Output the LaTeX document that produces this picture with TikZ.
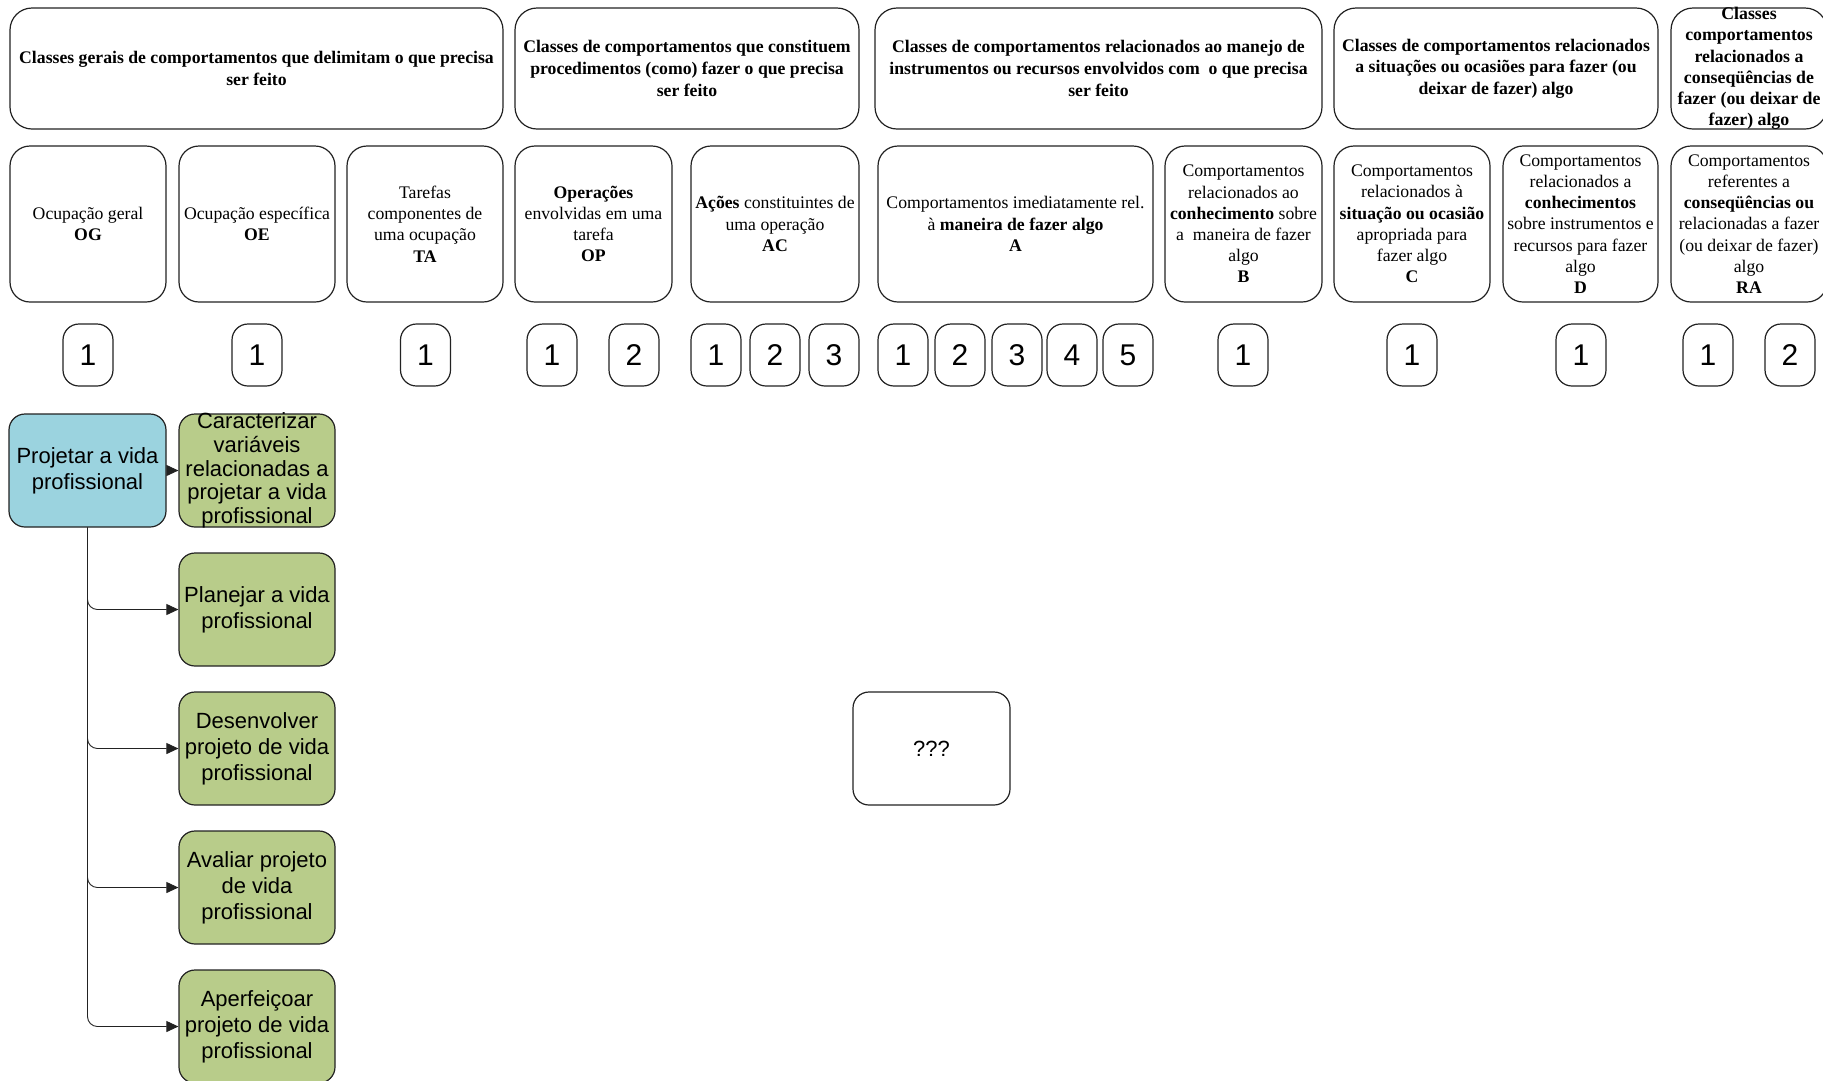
\documentclass[tikz,border=0pt]{standalone}
\usepackage{fontspec}
\setmainfont{Liberation Serif}
\newfontfamily\arialf{Liberation Sans}
\usetikzlibrary{arrows.meta}
\definecolor{blueF}{RGB}{155,211,223}
\definecolor{greenF}{RGB}{184,204,138}
\definecolor{edgec}{RGB}{34,34,34}
\tikzset{
 hbox/.style={draw=edgec, line width=1.2pt, rounded corners=22pt, inner sep=0pt, align=center, font=\fontsize{17.7}{21.6}\selectfont\bfseries, minimum height=121pt},
 htext/.style={inner sep=0pt, align=center, font=\fontsize{17.8}{21.2}\selectfont\bfseries},
 cbox/.style={draw=edgec, line width=1.2pt, rounded corners=20pt, inner sep=0pt, align=center, font=\fontsize{17.7}{21.2}\selectfont, minimum height=156pt},
 pill/.style={draw=edgec, line width=1.2pt, rounded corners=16pt, inner sep=0pt, minimum width=50pt, minimum height=62pt, font=\arialf\fontsize{30}{34}\selectfont},
 gbox/.style={draw=edgec, line width=1.2pt, rounded corners=16pt, inner sep=0pt, align=center, minimum width=156pt, minimum height=113pt, font=\arialf\fontsize{22}{25.8}\selectfont},
 gtext/.style={inner sep=0pt, align=center, font=\arialf\fontsize{22}{23.8}\selectfont},
 conn/.style={draw=edgec, line width=0.9pt, -{Triangle[length=12pt,width=11pt]}, rounded corners=10pt}
}
\begin{document}
\begin{tikzpicture}[x=1pt,y=-1pt]
\useasboundingbox (0,0) rectangle (1823,1080);
\clip (0,0) rectangle (1823,1080);
% headers
\node[hbox, minimum width=493pt] (h1) at (256.5,68.5) {Classes gerais de comportamentos que delimitam o que precisa\\ser feito};
\node[hbox, minimum width=344pt] (h2) at (687,68.5) {Classes de comportamentos que constituem\\procedimentos (como) fazer o que precisa\\ser feito};
\node[hbox, minimum width=447pt] (h3) at (1098.5,68.5) {Classes de comportamentos relacionados ao manejo de\\instrumentos ou recursos envolvidos com \ o que precisa\\ser feito};
\node[hbox, minimum width=324pt] (h4) at (1496,68.5) {Classes de comportamentos relacionados\\a situações ou ocasiões para fazer (ou\\deixar de fazer) algo};
\node[hbox, minimum width=156pt] (h5) at (1749,68.5) {};
\node[htext] (h5t) at (h5.center) {Classes\\comportamentos\\relacionados a\\conseqüências de\\fazer (ou deixar de\\fazer) algo};
% categories
\node[cbox, minimum width=156pt] (og) at (88,224) {Ocupação geral\\\textbf{OG}};
\node[cbox, minimum width=156pt] (oe) at (257,224) {Ocupação específica\\\textbf{OE}};
\node[cbox, minimum width=156pt] (ta) at (425,224) {Tarefas\\componentes de\\uma ocupação\\\textbf{TA}};
\node[cbox, minimum width=157pt] (op) at (593.5,224) {\textbf{Operações}\\envolvidas em uma\\tarefa\\\textbf{OP}};
\node[cbox, minimum width=168pt] (ac) at (775,224) {\textbf{Ações} constituintes de\\uma operação\\\textbf{AC}};
\node[cbox, minimum width=275pt] (ca) at (1015.5,224) {Comportamentos imediatamente rel.\\à \textbf{maneira de fazer algo}\\\textbf{A}};
\node[cbox, minimum width=157pt] (cb) at (1243.5,224) {Comportamentos\\relacionados ao\\\textbf{conhecimento} sobre\\a \ maneira de fazer\\algo\\\textbf{B}};
\node[cbox, minimum width=156pt] (cc) at (1412,224) {Comportamentos\\relacionados à\\\textbf{situação ou ocasião}\\apropriada para\\fazer algo\\\textbf{C}};
\node[cbox, minimum width=155pt] (cd) at (1580.5,224) {Comportamentos\\relacionados a\\\textbf{conhecimentos}\\sobre instrumentos e\\recursos para fazer\\algo\\\textbf{D}};
\node[cbox, minimum width=156pt] (ra) at (1749,224) {Comportamentos\\referentes a\\\textbf{conseqüências ou}\\relacionadas a fazer\\(ou deixar de fazer)\\algo\\\textbf{RA}};
% counters
\node[pill] (p1) at (88,355) {1};
\node[pill] (p2) at (257,355) {1};
\node[pill] (p3) at (425.5,355) {1};
\node[pill] (p4) at (552,355) {1};
\node[pill] (p5) at (634,355) {2};
\node[pill] (p6) at (716,355) {1};
\node[pill] (p7) at (775,355) {2};
\node[pill] (p8) at (834,355) {3};
\node[pill] (p9) at (903,355) {1};
\node[pill] (p10) at (960,355) {2};
\node[pill] (p11) at (1017,355) {3};
\node[pill] (p12) at (1072,355) {4};
\node[pill] (p13) at (1128,355) {5};
\node[pill] (p14) at (1243,355) {1};
\node[pill] (p15) at (1412,355) {1};
\node[pill] (p16) at (1581,355) {1};
\node[pill] (p17) at (1708,355) {1};
\node[pill] (p18) at (1790,355) {2};
% process tree
\node[gbox, fill=blueF, minimum width=157pt] (root) at (87.5,470.5) {Projetar a vida\\profissional};
\node[gbox, fill=greenF] (g1) at (257,470.5) {};
\node[gtext] (g1t) at (g1.center) {Caracterizar\\variáveis\\relacionadas a\\projetar a vida\\profissional};
\node[gbox, fill=greenF] (g2) at (257,609.5) {Planejar a vida\\profissional};
\node[gbox, fill=greenF] (g3) at (257,748.5) {Desenvolver\\projeto de vida\\profissional};
\node[gbox, fill=greenF] (g4) at (257,887.5) {Avaliar projeto\\de vida\\profissional};
\node[gbox, fill=greenF] (g5) at (257,1026.5) {Aperfeiçoar\\projeto de vida\\profissional};
\node[gbox, minimum width=157pt] (q) at (931.5,748.5) {???};
\draw[conn] (root.east) -- (g1.west);
\draw[conn] (root.south) |- (g2.west);
\draw[conn] (root.south) |- (g3.west);
\draw[conn] (root.south) |- (g4.west);
\draw[conn] (root.south) |- (g5.west);
\end{tikzpicture}
\end{document}
